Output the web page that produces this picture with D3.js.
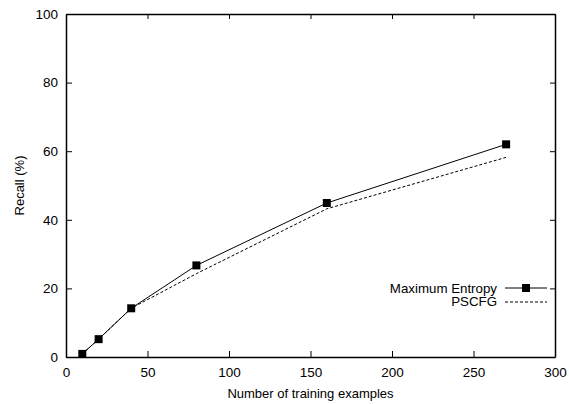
<!DOCTYPE html>
<html>
<head>
<meta charset="utf-8">
<script src="https://cdn.jsdelivr.net/npm/d3@7"></script>
<style>
  body { margin: 0; background: #fff; }
  text { font-family: "Liberation Sans", Arial, sans-serif; }
</style>
</head>
<body>
<div id="chart"></div>
<script>
// data
const examples = [10, 20, 40, 80, 160, 270];
const maxEnt = [0.9, 5.2, 14.2, 26.7, 44.9, 62.0];
const pscfg = [0.9, 5.2, 14.2, 24.3, 43.2, 58.2];
const xTicks = [0, 50, 100, 150, 200, 250, 300];
const yTicks = [0, 20, 40, 60, 80, 100];

const W = 569, H = 404;
const margin = { top: 14, right: 14, bottom: 47, left: 66 },
    width = W - margin.left - margin.right,
    height = H - margin.top - margin.bottom;

const svg = d3.select("#chart")
    .append("svg")
    .attr("width", W)
    .attr("height", H);

const g = svg.append("g")
    .attr("transform", `translate(${margin.left},${margin.top})`);

const x = d3.scaleLinear().domain([0, 300]).range([0, width]);
const y = d3.scaleLinear().domain([0, 100]).range([height, 0]);

// axes, gnuplot style: inward ticks, mirrored
const tk = 6;
g.append("g")
    .attr("transform", `translate(0,${height})`)
    .call(d3.axisBottom(x).tickValues(xTicks).tickSizeInner(-tk).tickSizeOuter(0).tickPadding(10));
g.append("g")
    .call(d3.axisTop(x).tickValues(xTicks).tickSizeInner(-5).tickSizeOuter(0).tickFormat(""));
g.append("g")
    .call(d3.axisLeft(y).tickValues(yTicks).tickSizeInner(-tk).tickSizeOuter(0).tickPadding(8));
g.append("g")
    .attr("transform", `translate(${width},0)`)
    .call(d3.axisRight(y).tickValues(yTicks).tickSizeInner(-5).tickSizeOuter(0).tickFormat(""));

g.selectAll(".domain").attr("stroke", "#000").attr("stroke-width", 1.5);
g.selectAll(".tick line").attr("stroke", "#000");
g.selectAll(".tick text").attr("font-size", 13.5).attr("fill", "#000")
    .attr("font-family", "Liberation Sans, Arial, sans-serif");

// axis titles
svg.append("text")
    .attr("x", margin.left + width / 2)
    .attr("y", 398)
    .attr("text-anchor", "middle")
    .attr("font-size", 13)
    .text("Number of training examples");
svg.append("text")
    .attr("transform", `translate(24,${margin.top + height / 2}) rotate(-90)`)
    .attr("text-anchor", "middle")
    .attr("font-size", 13)
    .text("Recall (%)");

const lineGen = d3.line()
    .x(d => x(d[0]))
    .y(d => y(d[1]));

const pscfgData = examples.map((e, i) => [e, pscfg[i]]);
const meData = examples.map((e, i) => [e, maxEnt[i]]);

g.append("path")
    .datum(pscfgData)
    .attr("d", lineGen)
    .attr("fill", "none")
    .attr("stroke", "#000")
    .attr("stroke-width", 1)
    .attr("stroke-dasharray", "3,2");

g.append("path")
    .datum(meData)
    .attr("d", lineGen)
    .attr("fill", "none")
    .attr("stroke", "#000")
    .attr("stroke-width", 1);

const sq = 8;
g.selectAll("rect.pt")
    .data(meData)
    .enter()
    .append("rect")
    .attr("class", "pt")
    .attr("x", d => x(d[0]) - sq / 2)
    .attr("y", d => y(d[1]) - sq / 2)
    .attr("width", sq)
    .attr("height", sq)
    .attr("fill", "#000");

// legend
const leg = svg.append("g");
const legTextX = 497, lx0 = 505, lx1 = 547;
leg.append("text").attr("x", legTextX).attr("y", 292.5)
    .attr("text-anchor", "end").attr("font-size", 13.3).text("Maximum Entropy");
leg.append("line").attr("x1", lx0).attr("x2", lx1).attr("y1", 288).attr("y2", 288)
    .attr("stroke", "#000");
leg.append("rect").attr("x", (lx0 + lx1) / 2 - sq / 2).attr("y", 288 - sq / 2)
    .attr("width", sq).attr("height", sq).attr("fill", "#000");
leg.append("text").attr("x", legTextX).attr("y", 306)
    .attr("text-anchor", "end").attr("font-size", 13.3).text("PSCFG");
leg.append("line").attr("x1", lx0).attr("x2", lx1).attr("y1", 302).attr("y2", 302)
    .attr("stroke", "#000").attr("stroke-dasharray", "3,2");
</script>
</body>
</html>
